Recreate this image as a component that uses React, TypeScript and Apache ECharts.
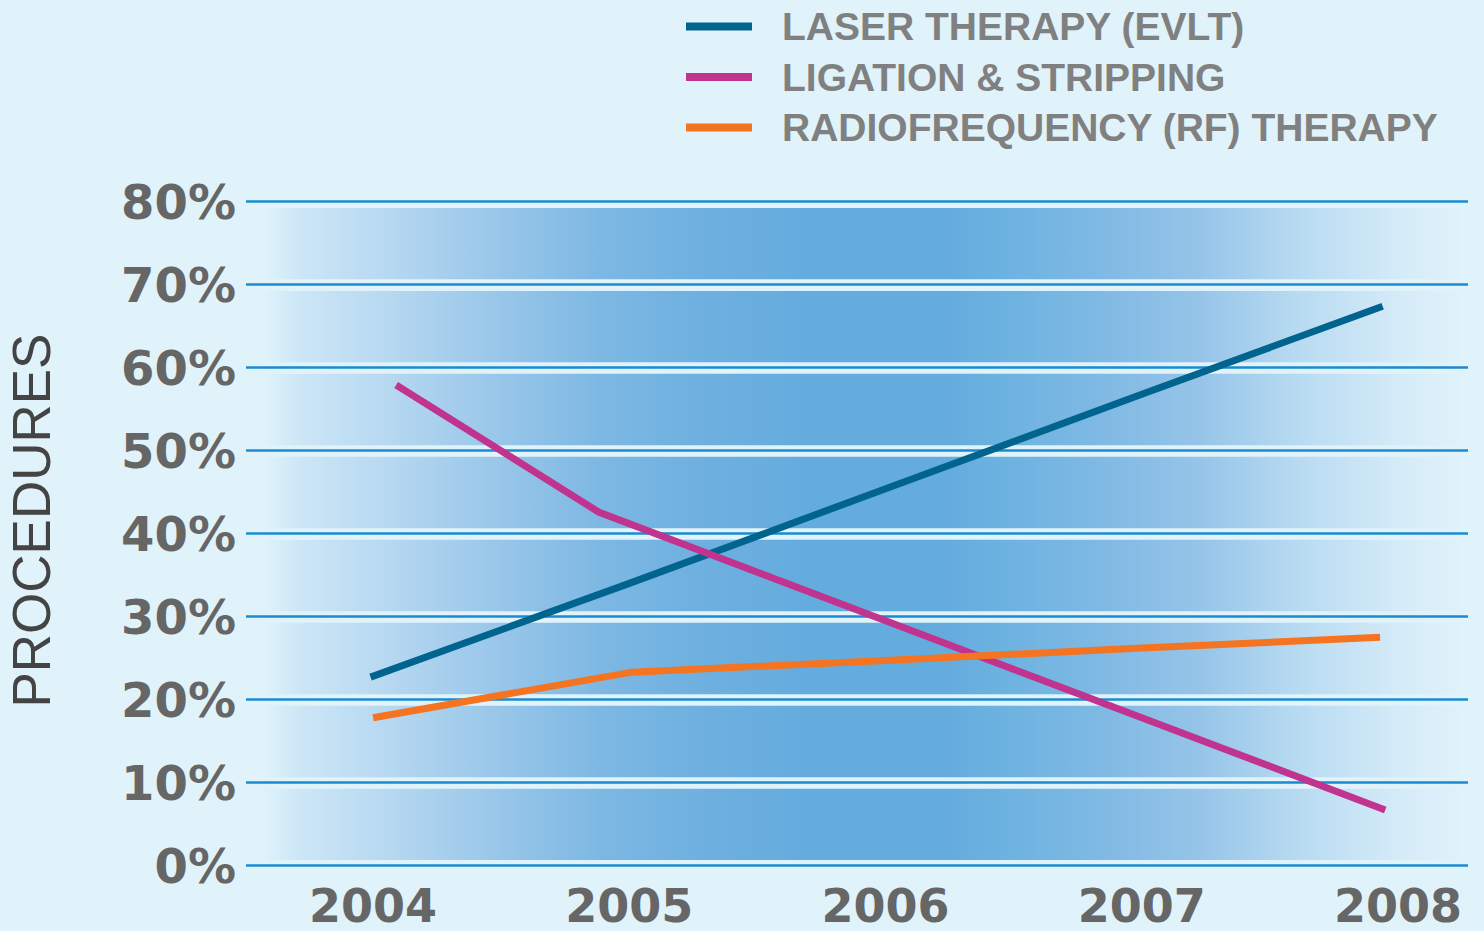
import React, { useEffect, useRef } from "react";
import * as echarts from "echarts";

const yearLabels = [2004, 2005, 2006, 2007, 2008];
const seriesNames = ["LASER THERAPY (EVLT)", "LIGATION & STRIPPING", "RADIOFREQUENCY (RF) THERAPY"];
const seriesColors = ["#00648f", "#c0338f", "#f47421"];

const laserYears = [2003.99, 2005, 2006, 2007, 2007.94];
const laserValues = [22.7, 34.0, 45.4, 56.8, 67.4];
const ligationYears = [2004.09, 2004.88, 2006, 2007, 2007.95];
const ligationValues = [57.9, 42.6, 29.5, 17.8, 6.7];
const rfYears = [2004.0, 2005.01, 2006, 2007, 2007.93];
const rfValues = [17.8, 23.3, 24.7, 26.2, 27.5];

const bandLows = [0, 10, 20, 30, 40, 50, 60, 70];

const zip = (xs: number[], ys: number[]) => xs.map((x, i) => [x, ys[i]]);

export default function App() {
  const ref = useRef<HTMLDivElement>(null);
  useEffect(() => {
    if (!ref.current) return;
    const chart = echarts.init(ref.current, null, { renderer: "svg" });
    const bandGradient = new echarts.graphic.LinearGradient(0, 0, 1, 0, [
      { offset: 0, color: "#def2fa" },
      { offset: 0.03, color: "#cce6f6" },
      { offset: 0.113, color: "#b3d6f0" },
      { offset: 0.197, color: "#98c6e9" },
      { offset: 0.28, color: "#7db8e3" },
      { offset: 0.364, color: "#6eb0e0" },
      { offset: 0.448, color: "#65acde" },
      { offset: 0.573, color: "#65acde" },
      { offset: 0.615, color: "#6cb2e0" },
      { offset: 0.699, color: "#7fb9e4" },
      { offset: 0.782, color: "#96c4e8" },
      { offset: 0.866, color: "#b8dbf2" },
      { offset: 0.95, color: "#d5ebf8" },
      { offset: 1, color: "#def2fa" },
    ]);
    const labelFont = {
      fontFamily: "DejaVu Sans",
      fontWeight: "bold" as const,
      color: "#666666",
    };
    const lineSeries = [
      zip(laserYears, laserValues),
      zip(ligationYears, ligationValues),
      zip(rfYears, rfValues),
    ].map((data, i) => ({
      name: seriesNames[i],
      type: "line",
      data,
      z: 5,
      symbol: "none",
      color: seriesColors[i],
      lineStyle: { width: 7, color: seriesColors[i], cap: "butt", join: "miter" },
      silent: true,
    }));
    chart.setOption({
      animation: false,
      backgroundColor: "#e0f3fa",
      grid: {
        left: 246,
        right: 16,
        top: 201.7,
        bottom: 65.5,
        containLabel: false,
        outerBoundsMode: "none",
      },
      legend: {
        orient: "vertical",
        left: 686,
        top: 7,
        padding: 0,
        itemWidth: 66,
        itemHeight: 8,
        itemGap: 11.5,
        icon: "rect",
        selectedMode: false,
        data: seriesNames,
        textStyle: {
          fontFamily: "Liberation Sans",
          fontWeight: "bold",
          fontSize: 39,
          color: "#808080",
          padding: [0, 0, 0, 25],
        },
      },
      xAxis: {
        type: "value",
        min: 2003.504,
        max: 2008.273,
        axisLine: { show: false },
        axisTick: { show: false },
        splitLine: { show: false },
        axisLabel: {
          ...labelFont,
          fontSize: 46,
          lineHeight: 34,
          margin: 23,
          customValues: yearLabels,
          formatter: (v: number) => String(v),
        },
      },
      yAxis: {
        type: "value",
        min: 0,
        max: 80,
        interval: 10,
        name: "PROCEDURES",
        nameLocation: "middle",
        nameRotate: 90,
        nameGap: 188,
        nameTextStyle: {
          fontFamily: "Liberation Sans",
          fontSize: 53,
          color: "#444444",
          padding: [0, 0, 0, 26],
        },
        axisLine: { show: false },
        axisTick: { show: false },
        splitLine: { show: true, lineStyle: { color: "#1b8bcf", width: 2.5 } },
        axisLabel: {
          ...labelFont,
          fontSize: 48,
          margin: 10,
          padding: [10, 0, 0, 0],
          formatter: "{value}%",
        },
      },
      series: [
        {
          type: "line",
          data: [],
          z: 1,
          silent: true,
          markArea: {
            silent: true,
            label: { show: false },
            itemStyle: { color: bandGradient },
            data: bandLows.map((lo) => [
              { xAxis: 2003.58, yAxis: lo + 0.65 },
              { xAxis: 2008.24, yAxis: lo + 10 - 0.75 },
            ]),
          },
        },
        ...lineSeries,
      ],
    });
    return () => chart.dispose();
  }, []);
  return (
    <div
      ref={ref}
      style={{ position: "fixed", left: 0, top: 0, width: 1484, height: 931 }}
    />
  );
}
